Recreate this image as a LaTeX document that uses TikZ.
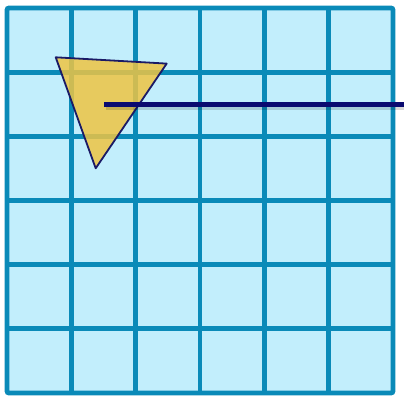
\documentclass[tikz,border=0pt]{standalone}
\usetikzlibrary{calc}
\definecolor{cellfill}{HTML}{C2EEFC}
\definecolor{gridline}{HTML}{0A8AB8}
\definecolor{wedge}{HTML}{EEC443}
\definecolor{wedgeline}{HTML}{1A1A66}
\definecolor{ray}{HTML}{0A0A70}

\begin{document}
\begin{tikzpicture}[
    x=1pt, y=-1pt,
    cell/.style={fill=cellfill},
    rule/.style={draw=gridline, line width=4.8pt},
    tri/.style={fill=wedge, fill opacity=0.85, draw=wedgeline, line width=1.8pt, line join=round},
    beam/.style={draw=ray, line width=4.6pt},
]
\useasboundingbox (0,0) rectangle (404,404);
\def\G#1{7 + #1*64.33}
\def\H#1{8 + #1*64.17}

% the board
\fill[cell, rounded corners=2pt] ({\G{0}}, {\H{0}}) rectangle ({\G{6}}, {\H{6}});
\foreach \i in {1, ..., 5}{
    \draw[rule] ({\G{\i}}, {\H{0}}) -- ({\G{\i}}, {\H{6}});
    \draw[rule] ({\G{0}}, {\H{\i}}) -- ({\G{6}}, {\H{\i}});
}
\draw[rule, rounded corners=2pt] ({\G{0}}, {\H{0}}) rectangle ({\G{6}}, {\H{6}});

% the wedge
\coordinate (ta) at (55.7, 57.3);
\coordinate (tb) at (166.7, 63.6);
\coordinate (tc) at (95.7, 168.3);
\draw[tri] (ta) -- (tb) -- (tc) -- cycle;

% the ray leaving the wedge
\coordinate (rs) at (104.3, 104.5);
\coordinate (re) at (404, 104.5);
\draw[black, opacity=0.15, line width=3pt] ($(rs)+(2,3.5)$) -- ($(re)+(0,3.5)$);
\draw[beam] (rs) -- (re);
\end{tikzpicture}
\end{document}
